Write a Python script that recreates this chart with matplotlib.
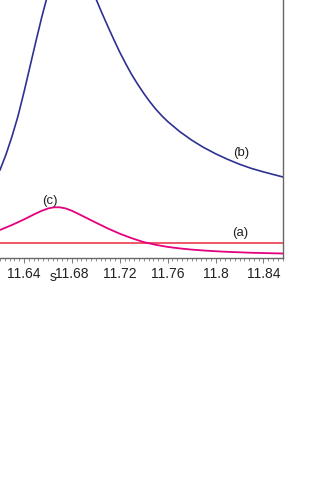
import matplotlib
matplotlib.use("Agg")
import matplotlib.pyplot as plt
from matplotlib.ticker import MultipleLocator

plt.rcParams['font.family'] = ['Liberation Sans', 'DejaVu Sans']

# curve (b)
s_b = [11.62, 11.625, 11.63, 11.635, 11.64, 11.645, 11.65, 11.655, 11.66, 11.665,
       11.67, 11.675, 11.68, 11.685, 11.69, 11.695, 11.70, 11.705, 11.71, 11.715,
       11.72, 11.725, 11.73, 11.735, 11.74, 11.745, 11.75, 11.755, 11.76, 11.77,
       11.78, 11.79, 11.80, 11.81, 11.82, 11.83, 11.84, 11.85, 11.8563]
y_b = [5.87, 6.9, 8.1, 9.45, 11.05, 12.75, 14.45, 16.1, 17.6, 18.9,
       19.8, 20.25, 20.3, 19.9, 19.2, 18.3, 17.3, 16.35, 15.45, 14.57,
       13.72, 12.95, 12.22, 11.58, 10.98, 10.43, 9.93, 9.49, 9.1, 8.43,
       7.86, 7.37, 6.95, 6.58, 6.25, 5.97, 5.74, 5.53, 5.4]

# curve (c)
s_c = [11.62, 11.63, 11.64, 11.645, 11.65, 11.655, 11.66, 11.665, 11.67, 11.675,
       11.68, 11.685, 11.69, 11.70, 11.71, 11.72, 11.73, 11.74, 11.75, 11.76,
       11.77, 11.78, 11.79, 11.80, 11.81, 11.82, 11.83, 11.84, 11.85, 11.8563]
y_c = [1.87, 2.2, 2.57, 2.77, 2.97, 3.15, 3.3, 3.38, 3.38, 3.3,
       3.15, 2.96, 2.76, 2.36, 1.97, 1.62, 1.32, 1.06, 0.88, 0.74,
       0.64, 0.56, 0.5, 0.45, 0.41, 0.38, 0.35, 0.33, 0.31, 0.30]

# level (a)
level_a = 1.0

xticks = [11.64, 11.68, 11.72, 11.76, 11.8, 11.84]
xtick_labels = ['11.64', '11.68', '11.72', '11.76', '11.8', '11.84']

fig = plt.figure(figsize=(3.27, 4.83), dpi=100)
ax = fig.add_axes([0.0, 1 - 258 / 483, 283 / 327, 258 / 483])

ax.axhline(level_a, color='#e8283c', lw=1.1)
ax.plot(s_c, y_c, color='#e5007d', lw=1.3, solid_joinstyle='round')
ax.plot(s_b, y_b, color='#2e3192', lw=1.2, solid_joinstyle='round')

ax.set_xlim(11.62, 11.8563)
ax.set_ylim(0, 17.2)

ax.text(11.6617, 3.8, '(c)', ha='center', va='center', fontsize=9.5, color='#222')
ax.text(11.8212, 7.0, '(b)', ha='center', va='center', fontsize=9.5, color='#222')
ax.text(11.8204, 1.67, '(a)', ha='center', va='center', fontsize=9.5, color='#222')

ax.set_xticks(xticks)
ax.set_xticklabels(xtick_labels)
ax.xaxis.set_minor_locator(MultipleLocator(0.004))
ax.tick_params(axis='x', which='major', direction='out', length=3.5, width=0.6,
               color='#666', labelsize=10, pad=3, labelcolor='#222')
ax.tick_params(axis='x', which='minor', direction='out', length=2.5, width=0.5, color='#666')
ax.set_yticks([])

ax.spines['left'].set_visible(False)
ax.spines['top'].set_visible(False)
for side in ['right', 'bottom']:
    ax.spines[side].set_color('#666')
    ax.spines[side].set_linewidth(1.0)

fig.text(53 / 327, 1 - 277 / 483, 's', ha='center', va='center', fontsize=10, color='#222')

fig.savefig('out.png', dpi=100)
